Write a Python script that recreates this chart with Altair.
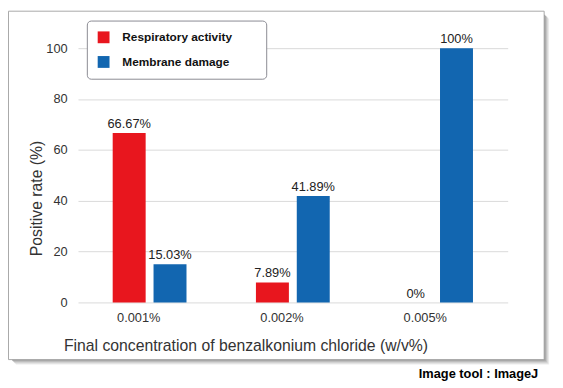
import altair as alt
import pandas as pd

categories = ["0.001%", "0.002%", "0.005%"]
series = ["Respiratory activity", "Membrane damage"]
respiratory = [66.67, 7.89, 0]
membrane = [15.03, 41.89, 100]
y_ticks = [0, 20, 40, 60, 80, 100]
colors = ["#E8161E", "#1266B0"]

rows = []
for c, r, m in zip(categories, respiratory, membrane):
    rows.append({"conc": c, "series": series[0], "value": r, "label": f"{r:g}%"})
    rows.append({"conc": c, "series": series[1], "value": m, "label": f"{m:g}%"})
df = pd.DataFrame(rows)

FONT = "Arial, 'Liberation Sans', sans-serif"

x_enc = alt.X(
    "conc:N", sort=categories,
    scale=alt.Scale(paddingInner=0, paddingOuter=0),
    axis=alt.Axis(
        title="Final concentration of benzalkonium chloride (w/v%)",
        labelAngle=0, labelOffset=-11, labelPadding=9, labelFontSize=13,
        labelColor="#333", labelFont=FONT, grid=False,
        titleX=170, titleY=44, titleAlign="center", titleBaseline="middle",
        titleFontSize=16, titleFontWeight="normal", titleColor="#333", titleFont=FONT,
    ),
)
xo_enc = alt.XOffset("series:N", sort=series,
                     scale=alt.Scale(paddingInner=0.193, paddingOuter=0.85))
y_enc = alt.Y(
    "value:Q", scale=alt.Scale(domain=[0, 100], nice=False),
    axis=alt.Axis(
        title="Positive rate (%)", values=y_ticks, labelPadding=11,
        labelFontSize=13, labelColor="#333", labelFont=FONT,
        gridColor="#d9d9d9", gridWidth=1,
        titleX=-42, titleY=152, titleAngle=270, titleAlign="center",
        titleBaseline="middle", titleFontSize=16, titleFontWeight="normal",
        titleColor="#333", titleFont=FONT,
    ),
)

base = alt.Chart(df).encode(x=x_enc, xOffset=xo_enc, y=y_enc)

bars = base.mark_bar().encode(
    color=alt.Color(
        "series:N", sort=series,
        scale=alt.Scale(domain=series, range=colors),
        legend=alt.Legend(
            orient="none", legendX=9, legendY=-28,
            title="MM", titleOrient="right", titleOpacity=0, titlePadding=0,
            titleFontSize=14, titleFontWeight="bold",
            symbolType="square", symbolSize=144, symbolStrokeWidth=0,
            labelFontSize=12, labelFontWeight="bold", labelFont=FONT,
            labelColor="#111", labelOffset=13, rowPadding=13, padding=11,
            strokeColor="#8a8a92", cornerRadius=4, fillColor="white",
        ),
    )
)

texts = base.mark_text(baseline="alphabetic", dy=-5, fontSize=13,
                       color="#222", font=FONT).encode(text="label:N")

one = pd.DataFrame({"a": [0]})
border = alt.Chart(one).mark_rect(filled=False, stroke="#a8a8a8", strokeWidth=1).encode(
    x=alt.value(-70.5), x2=alt.value(473), y=alt.value(-37.5), y2=alt.value(316))

shadows = []
for off, op in [(1, 0.6), (2, 0.45), (3, 0.32), (4, 0.2), (5, 0.1)]:
    shadows.append(alt.Chart(one).mark_rect(color="#444", opacity=op).encode(
        x=alt.value(473 + off - 1), x2=alt.value(473 + off), y=alt.value(-37 + off + 2), y2=alt.value(316 + off)))
    shadows.append(alt.Chart(one).mark_rect(color="#444", opacity=op).encode(
        x=alt.value(-70 + off + 2), x2=alt.value(473 + off - 1), y=alt.value(316 + off - 1), y2=alt.value(316 + off)))

credit = alt.Chart(one).mark_text(align="right", baseline="alphabetic", fontSize=13,
                                  fontWeight="bold", color="#000", font=FONT,
                                  text="Image tool : ImageJ").encode(
    x=alt.value(467), y=alt.value(335))

chart = alt.layer(*shadows, border, bars, texts, credit).properties(
    width=436, height=258,
    autosize=alt.AutoSizeParams(type="none"),
    padding={"left": 71, "top": 38, "right": 48, "bottom": 80},
).configure_view(stroke=None).configure_axis(domain=False, ticks=False)

chart.save("out.html", embed_options={"renderer": "svg", "actions": False})
